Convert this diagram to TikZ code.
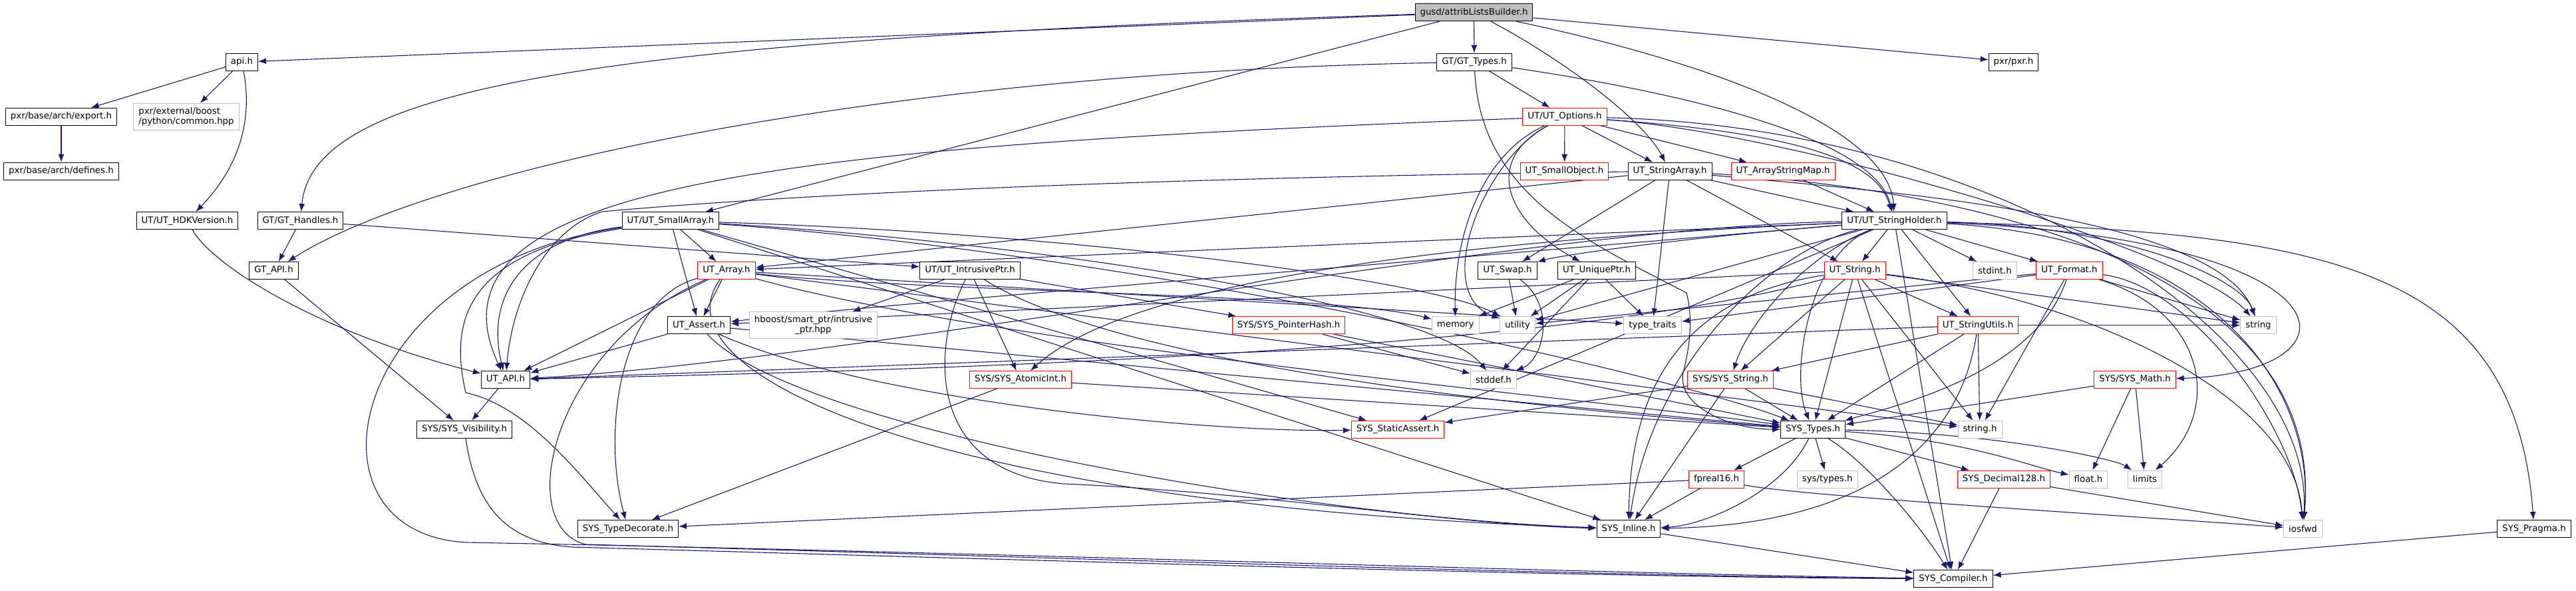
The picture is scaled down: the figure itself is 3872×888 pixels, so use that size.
\documentclass[tikz,border=0pt]{standalone}
\usepackage{fontspec}
\setmainfont{DejaVu Sans}
\usetikzlibrary{arrows.meta}
\definecolor{dotblue}{HTML}{191970}
\definecolor{dotred}{HTML}{FF0000}
\definecolor{dotgrey}{HTML}{BFBFBF}
\pgfdeclarelayer{edges}
\pgfsetlayers{edges,main}
\tikzset{
  hdr/.style={draw=black, fill=white, line width=1pt, minimum height=26pt,
    inner xsep=7.5pt, inner ysep=2pt, font=\fontsize{13.33}{15.5}\selectfont},
  hdrcut/.style={hdr, draw=dotred},
  hdrext/.style={hdr, draw=dotgrey},
  hdrmain/.style={hdr, fill=dotgrey},
  dep/.style={draw=dotblue, line width=1.1pt, -{Latex[length=12pt,width=9pt]}},
}
\begin{document}
\begin{tikzpicture}[x=1pt,y=-1pt]
\useasboundingbox (0,0) rectangle (3872,888);
% row 0 .. 3
\node[hdrmain] (root) at (2215.5,18.7) {gusd/attribListsBuilder.h}; %
\node[hdr] (api) at (363.5,93.2) {api.h}; %
\node[hdr] (gttypes) at (2216,93.2) {GT/GT\_Types.h}; %
\node[hdr] (pxr) at (3026.5,93.2) {pxr/pxr.h}; %
\node[hdr] (export) at (92,175.3) {pxr/base/arch/export.h}; %
\node[hdrext, align=left, minimum height=40pt] (common) at (280,175.3) {pxr/external/boost\\/python/common.hpp}; %
\node[hdrcut] (options) at (2352,175.3) {UT/UT\_Options.h}; %
\node[hdr] (defines) at (92,257.2) {pxr/base/arch/defines.h}; %
\node[hdrcut] (smallobj) at (2351.5,257.2) {UT\_SmallObject.h}; %
\node[hdr] (strarray) at (2510,257.2) {UT\_StringArray.h}; %
\node[hdrcut] (arrmap) at (2680,257.2) {UT\_ArrayStringMap.h}; %
% row 4 .. 5
\node[hdr] (hdkver) at (281.5,331.7) {UT/UT\_HDKVersion.h}; %
\node[hdr] (gthandles) at (451.5,331.7) {GT/GT\_Handles.h}; %
\node[hdr] (smallarr) at (1008,331.7) {UT/UT\_SmallArray.h}; %
\node[hdr] (strholder) at (2847.5,331.7) {UT/UT\_StringHolder.h}; %
\node[hdr] (gtapi) at (411.6,406.5) {GT\_API.h}; %
\node[hdrcut] (utarray) at (1092,406.5) {UT\_Array.h}; %
\node[hdr] (intrptr) at (1458,406.5) {UT/UT\_IntrusivePtr.h}; %
\node[hdr] (swap) at (2266,406.5) {UT\_Swap.h}; %
\node[hdr] (uniqptr) at (2400,406.5) {UT\_UniquePtr.h}; %
\node[hdrcut] (utstring) at (2788,406.5) {UT\_String.h}; %
\node[hdrext] (stdint) at (2998.5,406.5) {stdint.h}; %
\node[hdrcut] (format) at (3110.5,406.5) {UT\_Format.h}; %
% row 6 .. 7
\node[hdr] (assert) at (1050.6,488.7) {UT\_Assert.h}; %
\node[hdrext, align=center, minimum height=40pt] (hboost) at (1222.5,488.7) {hboost/smart\_ptr/intrusive\\\_ptr.hpp}; %
\node[hdrcut] (ptrhash) at (1937,488.7) {SYS/SYS\_PointerHash.h}; %
\node[hdrext] (memory) at (2187.7,488.7) {memory}; %
\node[hdrext] (utility) at (2281,488.7) {utility}; %
\node[hdrext] (typetraits) at (2484,488.7) {type\_traits}; %
\node[hdrcut] (strutils) at (2973,488.7) {UT\_StringUtils.h}; %
\node[hdrext] (string) at (3394.5,488.7) {string}; %
\node[hdr] (utapi) at (760,570.5) {UT\_API.h}; %
\node[hdrcut] (atomic) at (1534,570.5) {SYS/SYS\_AtomicInt.h}; %
\node[hdrext] (stddef) at (2245,570.5) {stddef.h}; %
\node[hdrcut] (sysstring) at (2601,570.5) {SYS/SYS\_String.h}; %
\node[hdrcut] (sysmath) at (3209,570.5) {SYS/SYS\_Math.h}; %
% row 8 .. 11
\node[hdr] (visib) at (698,645.3) {SYS/SYS\_Visibility.h}; %
\node[hdrcut] (staticassert) at (2101,645.3) {SYS\_StaticAssert.h}; %
\node[hdr] (systypes) at (2725,645.3) {SYS\_Types.h}; %
\node[hdrext] (stringh) at (2976,645.3) {string.h}; %
\node[hdrcut] (fpreal) at (2580,720) {fpreal16.h}; %
\node[hdrext] (systypesh) at (2746.7,720) {sys/types.h}; %
\node[hdrcut] (decimal) at (3012,720) {SYS\_Decimal128.h}; %
\node[hdrext] (floath) at (3139,720) {float.h}; %
\node[hdrext] (limits) at (3224,720) {limits}; %
\node[hdr] (typedec) at (944,794.5) {SYS\_TypeDecorate.h}; %
\node[hdr] (inline) at (2448,794.5) {SYS\_Inline.h}; %
\node[hdrext] (iosfwd) at (3461.5,794.5) {iosfwd}; %
\node[hdr] (pragma) at (3809,794.5) {SYS\_Pragma.h}; %
\node[hdr] (compiler) at (2936,869.5) {SYS\_Compiler.h}; %

\begin{pgfonlayer}{edges}
% short include edges
\foreach \a/\b in {root/api, root/gttypes, root/smallarr, root/pxr,
  api/export, api/common, export/defines,
  gthandles/gtapi, gthandles/intrptr, gtapi/visib, utapi/visib, gttypes/options,
  options/smallobj, options/strarray, options/arrmap,
  strarray/utarray, strarray/strholder, strarray/swap, strarray/utstring,
  strarray/typetraits, arrmap/strholder,
  smallarr/utarray, smallarr/assert, smallarr/staticassert, smallarr/inline,
  utarray/utapi, utarray/assert, utarray/typetraits, utarray/stringh,
  assert/utapi, assert/systypes, intrptr/hboost, intrptr/atomic, intrptr/ptrhash,
  ptrhash/stddef, ptrhash/systypes, swap/utility,
  uniqptr/memory, uniqptr/utility, uniqptr/typetraits, uniqptr/stddef,
  strholder/utarray, strholder/utstring, strholder/stdint, strholder/format,
  strholder/strutils, strholder/staticassert, strholder/compiler, strholder/utility,
  utstring/assert, utstring/strutils, utstring/sysstring, utstring/systypes,
  utstring/stringh, utstring/string, utstring/compiler,
  format/string, format/typetraits, format/utility, format/stringh,
  strutils/utapi, strutils/sysstring, strutils/systypes, strutils/stringh, strutils/string,
  sysstring/systypes, sysstring/stringh, sysstring/staticassert, sysstring/inline,
  sysmath/systypes, sysmath/floath, sysmath/limits, atomic/typedec, atomic/systypes,
  systypes/fpreal, systypes/systypesh, systypes/decimal, fpreal/inline, fpreal/typedec,
  decimal/compiler, decimal/iosfwd, inline/compiler, pragma/compiler}
  \draw[dep] (\a) -- (\b);
% bent edges: source/target/control 1/control 2
\foreach \a/\b/\px/\py/\qx/\qy in {root/gthandles/900/60/470/130,
  root/strarray/2350/90/2470/180, root/strholder/2600/100/2840/200,
  api/hdkver/380/180/360/250, hdkver/utapi/320/400/480/500,
  gttypes/gtapi/1300/110/640/260, gttypes/strholder/2600/150/2820/220,
  options/utapi/1200/220/620/270, options/strholder/2700/200/2820/240,
  options/uniqptr/2230/240/2260/330, options/memory/2230/230/2185/350,
  options/utility/2230/240/2150/440, options/string/2700/200/3300/380,
  options/iosfwd/3000/190/3480/500,
  strarray/string/2800/285/3330/320, strarray/iosfwd/2900/280/3500/380,
  smallarr/utapi/780/360/730/450, smallarr/stddef/1500/360/2150/450,
  smallarr/systypes/1700/380/2500/560, smallarr/utility/1600/350/2150/420,
  utarray/typedec/930/450/905/650, utarray/inline/980/560/1400/760,
  utarray/systypes/1500/520/2400/600, utarray/memory/1400/440/2000/440,
  assert/staticassert/1300/600/1800/650, assert/inline/1200/650/2000/780,
  intrptr/systypes/1700/560/2400/620, swap/stddef/2340/460/2320/540,
  strholder/utapi/2300/340/1300/540, strholder/atomic/2200/360/1700/420,
  strholder/assert/1800/420/1300/460, strholder/swap/2500/360/2340/385,
  strholder/sysstring/2720/380/2630/480, strholder/systypes/2720/380/2690/560,
  strholder/inline/2650/380/2480/560, strholder/string/3200/340/3370/420,
  strholder/iosfwd/3350/360/3480/600, strholder/sysmath/3550/360/3560/560,
  strholder/pragma/3500/350/3780/400,
  utstring/utapi/2300/540/1200/560, utstring/inline/2500/450/2450/620,
  utstring/iosfwd/3150/450/3450/600,
  format/iosfwd/3300/430/3450/650, format/systypes/3060/560/2850/610,
  format/limits/3320/470/3340/620, strutils/inline/2940/700/2760/790,
  systypes/floath/2950/660/3050/700, systypes/limits/3000/650/3180/690,
  systypes/inline/2680/740/2560/790, systypes/compiler/2800/690/2880/780,
  fpreal/iosfwd/2700/745/3200/775}
  \draw[dep] (\a) .. controls (\px,\py) and (\qx,\qy) .. (\b);
% long routed edges
\draw[dep] (smallarr) .. controls (520,400) and (440,800) .. (700,815)
  .. controls (1500,830) and (2400,862) .. (compiler); %
\draw[dep] (utarray) .. controls (830,520) and (770,790) .. (880,818)
  .. controls (1500,835) and (2400,866) .. (compiler); %
\draw[dep] (visib) .. controls (715,760) and (760,815) .. (860,822)
  .. controls (1500,840) and (2400,868) .. (compiler); %
\draw[dep] (intrptr) .. controls (1400,520) and (1390,710) .. (1600,727)
  .. controls (1900,740) and (2200,790) .. (inline); %
\draw[dep] (smallarr) .. controls (700,380) and (675,480) .. (700,590)
  .. controls (790,610) and (860,700) .. (typedec); %
\draw[dep] (strarray) .. controls (1500,270) and (1050,305) .. (905,318)
  .. controls (820,345) and (770,450) .. (utapi); %
\draw[dep] (gttypes) .. controls (2225,290) and (2380,360) .. (2535,440)
  .. controls (2545,480) and (2540,520) .. (2530,560)
  .. controls (2520,610) and (2600,645) .. (systypes); %
\end{pgfonlayer}
\end{tikzpicture}
\end{document}
